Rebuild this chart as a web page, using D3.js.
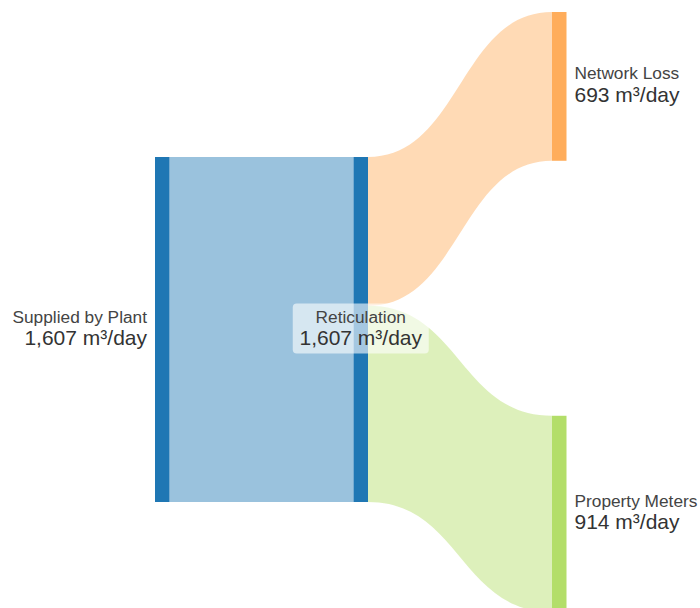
<!DOCTYPE html>
<html>
<head>
<meta charset="utf-8">
<script src="https://cdn.jsdelivr.net/npm/d3@7"></script>
<style>
    body { margin: 0; background: #fff; }
    text { font-family: "Liberation Sans", Arial, sans-serif; }
</style>
</head>
<body>
<div id="chart"></div>
<script>
// node data
const nodeNames = ["Supplied by Plant", "Reticulation", "Network Loss", "Property Meters"];
// link data
const linkSources = [0, 1, 1];
const linkTargets = [1, 2, 3];
const linkValues = [1607, 693, 914];
const unitLabel = "m³/day";

// styles
const nodeColors = ["#1f77b4", "#1f77b4", "#ffad5b", "#b3de69"];
const linkOpacity = 0.45;

const width = 700;
const height = 608;
const nodeWidth = 14.5;
const colLeft = 155, colRight = 552;
const bandHeight = 345;        // pixels for the largest node
const singleCenter = 329.5;    // vertical centre for single-node columns
const spreadTop = 12, spreadBottom = 612;

const svg = d3.select("#chart")
    .append("svg")
    .attr("width", width)
    .attr("height", height);

// build nodes and links
const nodes = nodeNames.map((name, i) => ({ index: i, name, color: nodeColors[i], inLinks: [], outLinks: [] }));
const links = linkValues.map((v, i) => ({
    source: nodes[linkSources[i]],
    target: nodes[linkTargets[i]],
    value: v
}));
links.forEach(l => { l.source.outLinks.push(l); l.target.inLinks.push(l); });

nodes.forEach(n => {
    n.value = Math.max(d3.sum(n.inLinks, l => l.value), d3.sum(n.outLinks, l => l.value));
});

// depth by walking the links
nodes.forEach(n => n.depth = 0);
let changed = true;
while (changed) {
    changed = false;
    links.forEach(l => {
        if (l.target.depth < l.source.depth + 1) { l.target.depth = l.source.depth + 1; changed = true; }
    });
}
const maxDepth = d3.max(nodes, n => n.depth);

const x = d3.scaleLinear().domain([0, maxDepth]).range([colLeft, colRight]);
const k = d3.scaleLinear().domain([0, d3.max(nodes, n => n.value)]).range([0, bandHeight]);

// position nodes per column
d3.groups(nodes, n => n.depth).forEach(([depth, col]) => {
    col.forEach(n => { n.x0 = x(depth); n.x1 = n.x0 + nodeWidth; n.h = k(n.value); });
    if (col.length === 1) {
        col[0].y0 = singleCenter - col[0].h / 2;
    } else {
        const gap = (spreadBottom - spreadTop - d3.sum(col, n => n.h)) / (col.length - 1);
        let y = spreadTop;
        col.forEach(n => { n.y0 = y; y += n.h + gap; });
    }
    col.forEach(n => n.y1 = n.y0 + n.h);
});

// stack links on each node
nodes.forEach(n => {
    let sy = n.y0;
    n.outLinks.sort((a, b) => a.target.y0 - b.target.y0).forEach(l => {
        l.sy0 = sy; sy += k(l.value); l.sy1 = sy;
    });
    let ty = n.y0;
    n.inLinks.sort((a, b) => a.source.y0 - b.source.y0).forEach(l => {
        l.ty0 = ty; ty += k(l.value); l.ty1 = ty;
    });
});

function bandPath(l) {
    const x0 = l.source.x1, x1 = l.target.x0;
    const xi = d3.interpolateNumber(x0, x1);
    const c0 = xi(0.5), c1 = xi(0.5);
    const p = d3.path();
    p.moveTo(x0, l.sy0);
    p.bezierCurveTo(c0, l.sy0, c1, l.ty0, x1, l.ty0);
    p.lineTo(x1, l.ty1);
    p.bezierCurveTo(c1, l.ty1, c0, l.sy1, x0, l.sy1);
    p.closePath();
    return p.toString();
}

// links
svg.append("g")
    .selectAll("path")
    .data(links)
    .join("path")
    .attr("d", bandPath)
    .attr("fill", d => d.target.index === 1 ? d.source.color : d.target.color)
    .attr("fill-opacity", linkOpacity);

// nodes
svg.append("g")
    .selectAll("rect")
    .data(nodes)
    .join("rect")
    .attr("x", d => d.x0)
    .attr("y", d => d.y0)
    .attr("width", d => d.x1 - d.x0)
    .attr("height", d => d.y1 - d.y0)
    .attr("fill", d => d.color);

// labels
const fmt = d3.format(",");
const labels = svg.append("g")
    .selectAll("g")
    .data(nodes)
    .join("g")
    .attr("transform", d => {
        const cy = (d.y0 + d.y1) / 2;
        if (d.depth === 0) return `translate(${d.x0 - 8},${cy})`;
        if (d.depth === maxDepth) return `translate(${d.x1 + 8},${cy})`;
        return `translate(${(d.x0 + d.x1) / 2},${cy})`;
    })
    .attr("text-anchor", d => d.depth === 0 ? "end" : d.depth === maxDepth ? "start" : "middle");

// background box for middle labels
labels.filter(d => d.depth > 0 && d.depth < maxDepth)
    .append("rect")
    .attr("x", -68)
    .attr("y", -26)
    .attr("width", 136)
    .attr("height", 50)
    .attr("rx", 4)
    .attr("fill", "#fff")
    .attr("fill-opacity", 0.6);

labels.append("text")
    .attr("y", -7)
    .attr("fill", "#444")
    .style("font-size", "17.3px")
    .text(d => d.name);

labels.append("text")
    .attr("y", 15.5)
    .attr("fill", "#333")
    .style("font-size", "21px")
    .text(d => `${fmt(d.value)} ${unitLabel}`);
</script>
</body>
</html>
